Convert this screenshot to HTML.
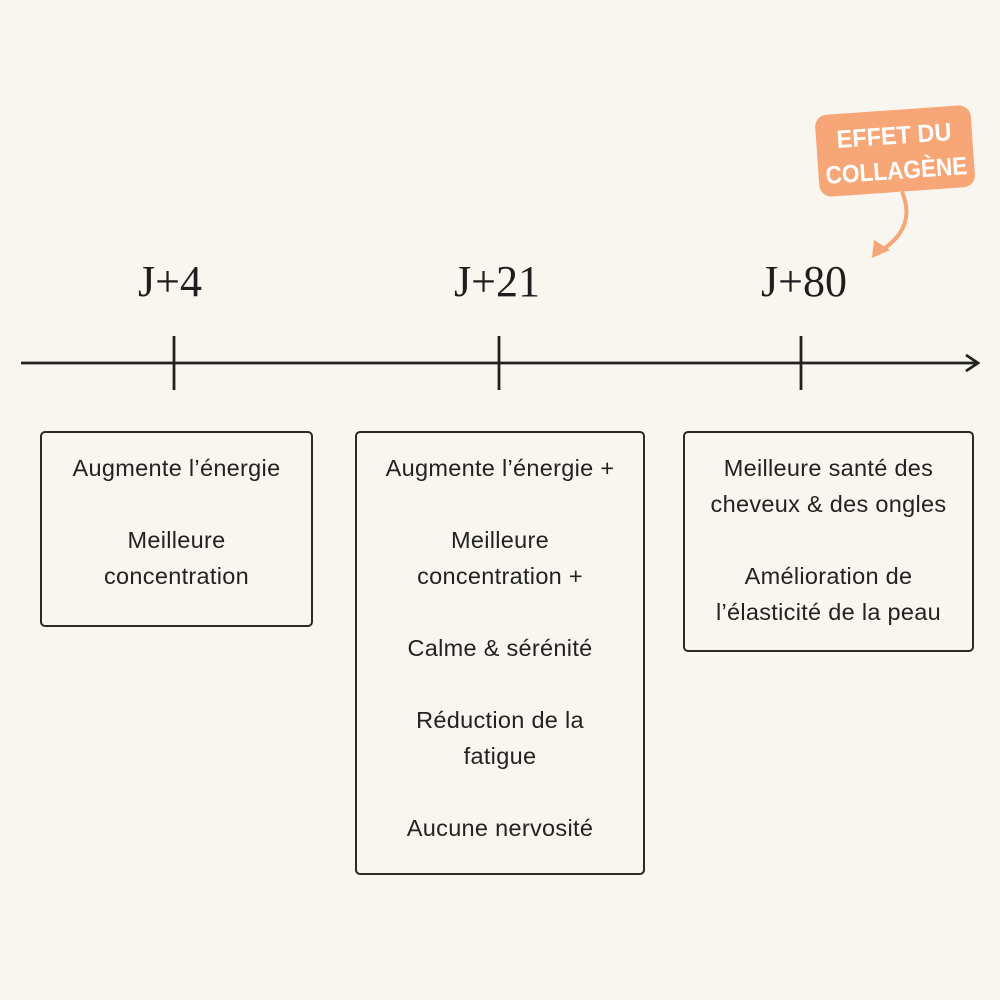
<!DOCTYPE html>
<html><head><meta charset="utf-8"><style>
body{margin:0;width:1000px;height:1000px;background:#f9f6f0;position:relative;overflow:hidden;font-family:"Liberation Sans",sans-serif;color:#222}
.lab{position:absolute;font-family:"Liberation Serif",serif;font-size:44px;width:200px;text-align:center;top:256px;color:#1e1e1e}
.box{position:absolute;border:2px solid #2a2a2a;border-radius:5px;box-sizing:border-box;text-align:center;font-size:23.5px;line-height:36px;letter-spacing:0.3px}
.box p{margin:0 0 36px 0}
</style></head><body>
<svg width="1000" height="1000" style="position:absolute;left:0;top:0">
<line x1="21" y1="363" x2="976" y2="363" stroke="#222" stroke-width="2.8"/>
<polyline points="966,355 978,363 966,371" fill="none" stroke="#222" stroke-width="2.8"/>
<line x1="174" y1="336" x2="174" y2="390" stroke="#222" stroke-width="2.8"/>
<line x1="499" y1="336" x2="499" y2="390" stroke="#222" stroke-width="2.8"/>
<line x1="801" y1="336" x2="801" y2="390" stroke="#222" stroke-width="2.8"/>
<g transform="rotate(-4 895 150)">
<rect x="817" y="110" width="156" height="82" rx="12" fill="#f6a677"/>
<text x="895" y="144" text-anchor="middle" font-family="Liberation Sans" font-weight="bold" font-size="25" fill="#fff" textLength="115" lengthAdjust="spacingAndGlyphs">EFFET DU</text>
<text x="895" y="179" text-anchor="middle" font-family="Liberation Sans" font-weight="bold" font-size="25" fill="#fff" textLength="142" lengthAdjust="spacingAndGlyphs">COLLAGÈNE</text>
</g>
<path d="M902 192 C912 215 905 235 882 250" fill="none" stroke="#f6a677" stroke-width="4"/>
<polygon points="872,258 874,240 890,250" fill="#f6a677"/>
</svg>
<div class="lab" style="left:70px">J+4</div>
<div class="lab" style="left:397px">J+21</div>
<div class="lab" style="left:704px">J+80</div>
<div class="box" style="left:40px;top:431px;width:273px;height:196px;padding-top:17px"><p>Augmente l’énergie</p><p>Meilleure<br>concentration</p></div>
<div class="box" style="left:355px;top:431px;width:290px;height:444px;padding-top:17px"><p>Augmente l’énergie +</p><p>Meilleure<br>concentration +</p><p>Calme &amp; sérénité</p><p>Réduction de la<br>fatigue</p><p>Aucune nervosité</p></div>
<div class="box" style="left:683px;top:431px;width:291px;height:221px;padding-top:17px"><p>Meilleure santé des<br>cheveux &amp; des ongles</p><p>Amélioration de<br>l’élasticité de la peau</p></div>
</body></html>
